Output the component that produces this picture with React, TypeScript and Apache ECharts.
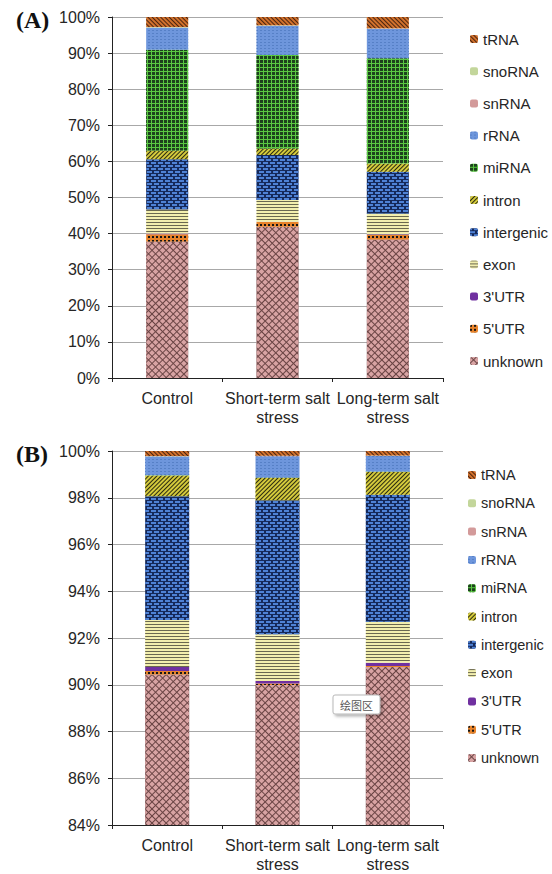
import React, { useEffect, useRef } from "react";
import * as echarts from "echarts";

// stacking order, bottom to top
const types = ["unknown", "5'UTR", "3'UTR", "exon", "intergenic", "intron", "miRNA", "rRNA", "snRNA", "snoRNA", "tRNA"];
const categories = ["Control", "Short-term salt\nstress", "Long-term salt\nstress"];

// Panel A (percent), values in the order of `types`
const controlA = [37.8, 2.0, 0.2, 6.7, 13.9, 2.4, 27.9, 6.1, 0.1, 0.1, 2.8];
const shortA = [41.9, 1.3, 0.1, 6.0, 12.5, 1.8, 25.9, 8.0, 0.1, 0.1, 2.3];
const longA = [38.4, 1.2, 0.2, 5.8, 11.5, 2.3, 29.2, 8.1, 0.1, 0.1, 3.1];

// Panel B (percent)
const controlB = [90.44, 0.15, 0.17, 2.01, 5.29, 0.89, 0.01, 0.81, 0.01, 0.01, 0.21];
const shortB = [89.99, 0.06, 0.11, 2.0, 5.73, 0.97, 0.01, 0.91, 0.01, 0.01, 0.2];
const longB = [90.76, 0.04, 0.14, 1.76, 5.43, 0.98, 0.01, 0.67, 0.01, 0.01, 0.19];

const yTicksA = [0, 100, 10];
const yTicksB = [84, 100, 2];

const FONT = '"Liberation Sans", Arial, sans-serif';

const styles: Record<string, any> = {
  unknown: { color: "#6a4444", decal: { symbol: "rect", color: "#d8a3a3", dashArrayX: [4, 1], dashArrayY: [4, 1], rotation: Math.PI / 4 } },
  "5'UTR": { color: "#e8832a", decal: { symbol: "rect", color: "#151515", dashArrayX: [2, 2], dashArrayY: [2, 2] } },
  "3'UTR": { color: "#7030a0" },
  exon: { color: "#f3efae", decal: { symbol: "rect", color: "#6a6850", dashArrayX: [1, 0], dashArrayY: [1, 2] } },
  intergenic: { color: "#15295a", decal: { symbol: "rect", color: "#4f82d6", dashArrayX: [[5, 2], [2, 2, 3, 0]], dashArrayY: [2, 1] } },
  intron: { color: "#d4ca3c", decal: { symbol: "rect", color: "#2a2a10", dashArrayX: [1, 0], dashArrayY: [1, 2], rotation: -Math.PI / 4 } },
  miRNA: { color: "#5ac842", decal: { symbol: "rect", color: "#1d421d", dashArrayX: [3, 1], dashArrayY: [3, 1] } },
  rRNA: { color: "#6e96dc", decal: { symbol: "rect", color: "#5680c6", dashArrayX: [2, 2], dashArrayY: [1, 2] } },
  snRNA: { color: "#d39a9a" },
  snoRNA: { color: "#c3d69b" },
  tRNA: { color: "#d2712c", decal: { symbol: "rect", color: "#4a2410", dashArrayX: [1, 0], dashArrayY: [1, 2], rotation: Math.PI / 4 } },
};

function buildSeries(panel: number, cols: number[][], barWidth: number) {
  return types.map((t, i) => ({
    name: t,
    type: "bar",
    stack: panel === 0 ? "A" : "B",
    xAxisIndex: panel,
    yAxisIndex: panel,
    barWidth,
    clip: true,
    itemStyle: { color: styles[t].color, decal: styles[t].decal },
    data: cols.map((c) => c[i]),
  }));
}

function yAxis(gridIndex: number, t: number[]) {
  return {
    type: "value",
    gridIndex,
    min: t[0],
    max: t[1],
    interval: t[2],
    axisLine: { show: true, lineStyle: { color: "#222", width: 1 } },
    axisTick: { show: true, length: 4, lineStyle: { color: "#222" } },
    axisLabel: { formatter: "{value}%", fontSize: 16, color: "#262626", fontFamily: FONT, margin: 12 },
    splitLine: { show: true, lineStyle: { color: "#a8a8a8", width: 1 } },
  };
}

function xAxis(gridIndex: number) {
  return {
    type: "category",
    gridIndex,
    data: categories,
    axisLine: { show: true, lineStyle: { color: "#222", width: 1 } },
    axisTick: { show: true, length: 4, lineStyle: { color: "#222" } },
    axisLabel: { fontSize: 16, color: "#262626", fontFamily: FONT, margin: 11, lineHeight: 19, interval: 0 },
  };
}

function legend(top: number, gap: number, fontSize: number, left: number) {
  return {
    orient: "vertical",
    left,
    top,
    itemWidth: 8,
    itemHeight: 8,
    itemGap: gap,
    data: types.slice().reverse(),
    textStyle: { fontSize, color: "#262626", fontFamily: FONT, lineHeight: 16 },
    selectedMode: false,
  };
}

export default function App() {
  const ref = useRef<HTMLDivElement>(null);
  useEffect(() => {
    if (!ref.current) return;
    const chart = echarts.init(ref.current, null, { renderer: "svg" });
    chart.setOption({
      animation: false,
      backgroundColor: "#fff",
      grid: [
        { left: 112, right: 109, top: 17, bottom: 496 },
        { left: 112, right: 109, top: 451, bottom: 45 },
      ],
      xAxis: [xAxis(0), xAxis(1)],
      yAxis: [yAxis(0, yTicksA), yAxis(1, yTicksB)],
      legend: [legend(26, 16.2, 15, 465), legend(462, 12.3, 14.5, 463)],
      series: [
        ...buildSeries(0, [controlA, shortA, longA], 42),
        ...buildSeries(1, [controlB, shortB, longB], 44),
      ],
      graphic: [
        { type: "text", left: 16, top: 8, style: { text: "(A)", font: 'bold 24px "Liberation Serif", "Times New Roman", serif', fill: "#111" } },
        { type: "text", left: 16, top: 442, style: { text: "(B)", font: 'bold 24px "Liberation Serif", "Times New Roman", serif', fill: "#111" } },
        {
          type: "group",
          z: 100,
          children: [
            {
              type: "rect",
              shape: { x: 333, y: 695, width: 47, height: 19, r: 2 },
              style: { fill: "#fff", stroke: "#b8b8b8", lineWidth: 1, shadowBlur: 3, shadowOffsetX: 2, shadowOffsetY: 2, shadowColor: "rgba(0,0,0,0.3)" },
              z: 100,
            },
            {
              type: "text",
              x: 356.5,
              y: 705,
              z: 101,
              style: { text: "绘图区", font: '11px "Noto Sans CJK SC", sans-serif', fill: "#555", align: "center", verticalAlign: "middle" },
            },
          ],
        },
      ],
    });
    return () => chart.dispose();
  }, []);
  return <div ref={ref} style={{ position: "fixed", left: 0, top: 0, width: 552, height: 874 }} />;
}
